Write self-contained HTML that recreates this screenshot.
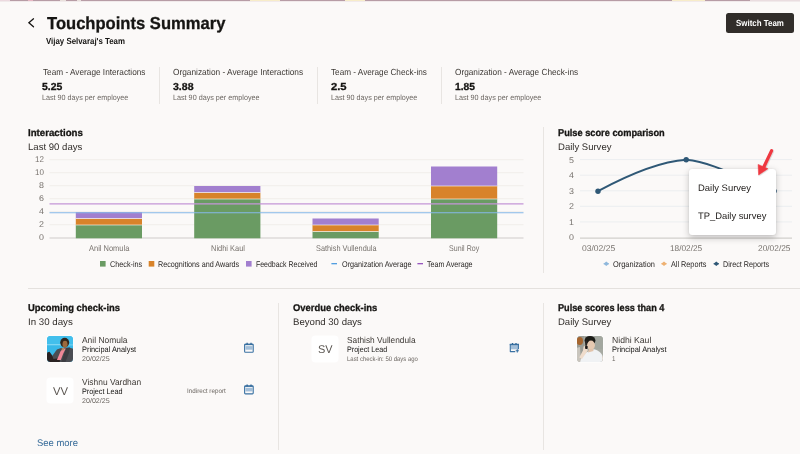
<!DOCTYPE html>
<html lang="en">
<head>
<meta charset="utf-8">
<title>Touchpoints Summary</title>
<style>
html,body{margin:0;padding:0;}
body{text-rendering:geometricPrecision;width:800px;height:454px;overflow:hidden;background:#fbf9f8;font-family:"Liberation Sans",Arial,sans-serif;position:relative;}
#page{position:absolute;left:0;top:0;width:800px;height:454px;overflow:hidden;background:#fbf9f8;}
.t{position:absolute;white-space:nowrap;line-height:1em;display:inline-block;transform-origin:0 0;}
svg{position:absolute;left:0;top:0;}
.topstrip{position:absolute;left:0;top:0;width:800px;height:2px;background:linear-gradient(#b79ca5 0,#b79ca5 50%,#f1eaeb 50%,#f1eaeb 100%);}
.topstrip i{position:absolute;top:0;height:1px;display:block;}
.btn{position:absolute;left:726.3px;top:12.7px;width:68px;height:20.6px;background:#312d2a;border-radius:2.5px;}
.vd{position:absolute;width:1px;background:#e8e5e2;}
.hd{position:absolute;height:1px;background:#e4e1de;}
.av{position:absolute;width:25.8px;height:26.1px;border-radius:3.5px;background:#ffffff;overflow:hidden;box-shadow:0 0 0 0.6px rgba(255,255,255,0.9);}
.popup{position:absolute;left:688.6px;top:168.8px;width:87.2px;height:66.2px;background:#ffffff;border-radius:3px;box-shadow:0 2.5px 7px rgba(0,0,0,0.22),0 0 1.5px rgba(0,0,0,0.10);}
</style>
</head>
<body>
<div id="page">
<div class="topstrip"><i style="left:0;width:10px;background:#ecd9df"></i><i style="left:28px;width:5px;background:#e7b7c3"></i><i style="left:60px;width:6px;background:#e9e0dc"></i><i style="left:77px;width:4px;background:#e9e0dc"></i><i style="left:250px;width:30px;background:#f7ecc9"></i><i style="left:345px;width:20px;background:#f7ecc9"></i><i style="left:672px;width:33px;background:#f7ecc9"></i><i style="left:750px;width:50px;background:#eadde0"></i></div>

<!-- header -->
<svg width="800" height="60" viewBox="0 0 800 60"><path d="M33.5 18.8 L28.9 22.7 L33.5 26.7" fill="none" stroke="#161513" stroke-width="1.3" stroke-linecap="round" stroke-linejoin="miter"/></svg>
<div class="btn"></div>

<!-- metric dividers -->
<div class="vd" style="left:159px;top:67px;height:37px"></div>
<div class="vd" style="left:317px;top:67px;height:37px"></div>
<div class="vd" style="left:440.5px;top:67px;height:37px"></div>

<!-- section dividers -->
<div class="vd" style="left:543px;top:127px;height:146px"></div>
<div class="hd" style="left:28px;top:288px;width:772px"></div>
<div class="vd" style="left:278px;top:302.5px;height:147px"></div>
<div class="vd" style="left:543px;top:302.5px;height:147px"></div>

<!-- charts -->
<svg width="800" height="454" viewBox="0 0 800 454">
 <!-- interactions grid -->
 <g stroke="#f0eeeb" stroke-width="1">
  <path d="M49.5 224.7H523.5M49.5 211.7H523.5M49.5 198.7H523.5M49.5 185.7H523.5M49.5 172.7H523.5M49.5 159.7H523.5"/>
 </g>
 <path d="M49.5 238.0H523.5" stroke="#cfccc9" stroke-width="1.2"/>
 <!-- bars -->
 <g>
  <rect x="75.8" y="225.00" width="66.2" height="13.30" fill="#6a9b63"/>
  <rect x="75.8" y="218.50" width="66.2" height="6.50" fill="#d8832a"/>
  <rect x="75.8" y="212.00" width="66.2" height="6.50" fill="#a27fcf"/>
  <rect x="194.2" y="199.00" width="66.2" height="39.30" fill="#6a9b63"/>
  <rect x="194.2" y="192.50" width="66.2" height="6.50" fill="#d8832a"/>
  <rect x="194.2" y="186.00" width="66.2" height="6.50" fill="#a27fcf"/>
  <rect x="312.5" y="231.50" width="66.2" height="6.80" fill="#6a9b63"/>
  <rect x="312.5" y="225.00" width="66.2" height="6.50" fill="#d8832a"/>
  <rect x="312.5" y="218.50" width="66.2" height="6.50" fill="#a27fcf"/>
  <rect x="431.0" y="199.00" width="66.2" height="39.30" fill="#6a9b63"/>
  <rect x="431.0" y="186.00" width="66.2" height="13.00" fill="#d8832a"/>
  <rect x="431.0" y="166.50" width="66.2" height="19.50" fill="#a27fcf"/>
 </g>
 <g stroke="#fbf9f8" stroke-width="0.9" opacity="0.7">
  <path d="M75.8 225.00h66.2M75.8 218.50h66.2M194.2 199.00h66.2M194.2 192.50h66.2M312.5 231.50h66.2M312.5 225.00h66.2M431.0 199.00h66.2M431.0 186.00h66.2"/>
 </g>
 <path d="M49.5 212.78H523.5" stroke="#86b9e8" stroke-width="1.15"/>
 <path d="M49.5 203.88H523.5" stroke="#c596d7" stroke-width="1.25"/>
 <!-- legend -->
 <rect x="100" y="261" width="5.6" height="5.6" fill="#6a9b63"/>
 <rect x="148.7" y="261" width="5.6" height="5.6" fill="#d8832a"/>
 <rect x="246" y="261" width="5.6" height="5.6" fill="#a27fcf"/>
 <path d="M331.4 263.7h5.6" stroke="#3f93dd" stroke-width="1.2"/>
 <path d="M417.4 263.7h5.6" stroke="#8d44b8" stroke-width="1.2"/>

 <!-- pulse grid -->
 <g stroke="#eceef0" stroke-width="1">
  <path d="M580 159.6H792M580 175.2H792M580 190.8H792M580 206.3H792M580 221.9H792"/>
 </g>
 <path d="M580 238.1H792" stroke="#d2cfcc" stroke-width="1.3"/>
 <path d="M598 191.2 C 628 175, 659 161.6, 686.2 159.8 C 715 162.5, 745 181, 774.3 191" fill="none" stroke="#2f5876" stroke-width="1.9" stroke-linecap="round"/>
 <circle cx="598" cy="191.2" r="2.7" fill="#2f5876"/>
 <circle cx="686.2" cy="159.8" r="2.7" fill="#2f5876"/>
 <circle cx="774.3" cy="191" r="2.5" fill="#2f5876"/>
 <!-- pulse legend -->
 <g>
  <path d="M603.6 263.8h5.4" stroke="#8fb8dc" stroke-width="0.9"/><path d="M606.3 261.6l2.7 2.2l-2.7 2.2l-2.7-2.2z" fill="#8fb8dc"/>
  <path d="M661.3 263.8h5.4" stroke="#eeb172" stroke-width="0.9"/><path d="M664 261.6l2.7 2.2l-2.7 2.2l-2.7-2.2z" fill="#eeb172"/>
  <path d="M713.6 263.8h5.4" stroke="#2f5876" stroke-width="0.9"/><path d="M716.3 261.6l2.7 2.2l-2.7 2.2l-2.7-2.2z" fill="#2f5876"/>
 </g>
</svg>

<!-- avatars -->
<div class="av" style="left:47.2px;top:335.6px;">
 <svg width="26" height="26" viewBox="0 0 26 26">
  <defs><filter id="bl1" x="-10%" y="-10%" width="120%" height="120%"><feGaussianBlur stdDeviation="0.45"/></filter></defs>
  <rect width="26" height="26" fill="#38b8e8"/>
  <g filter="url(#bl1)">
  <rect x="-1" y="-1" width="28" height="9" fill="#43bfec"/>
  <rect x="-1" y="8" width="15" height="1.3" fill="#7fd6f3"/>
  <rect x="21" y="8.4" width="6" height="1" fill="#7fd6f3"/>
  <path d="M4.8 20.6 L9.9 13.6 L14 12 L22 11.5 L27 13 L27 27 L4 27Z" fill="#4c4d52"/>
  <path d="M19 12.2 L23 11.6 L22 17 L18 27 L14 27Z" fill="#3c3d42"/>
  <path d="M0.2 16.5 L2.5 15.8 L4.9 19 L6.5 23 L12.8 22 L12.8 27 L-1 27Z" fill="#2b2320"/>
  <ellipse cx="17.7" cy="6.6" rx="4.5" ry="4.8" fill="#33261c"/>
  <ellipse cx="18" cy="8.2" rx="2.5" ry="3.4" fill="#9a6a3c"/>
  <path d="M13.4 15.6 L15.8 12.8 L18.8 12.4 L16.4 17.2 L13.8 23.9 L9.9 23.9 L12.2 18.5Z" fill="#ef8797"/>
  <path d="M14.5 12.6 L17.5 11.6 L17 14 L15 14.6Z" fill="#b98a5e"/>
  </g>
 </svg>
</div>
<div class="av" style="left:47.3px;top:378.4px;height:25px"></div>
<div class="av" style="left:312.2px;top:335.6px;"></div>
<div class="av" style="left:576.8px;top:335.6px;">
 <svg width="26" height="26" viewBox="0 0 26 26">
  <defs><filter id="bl2" x="-10%" y="-10%" width="120%" height="120%"><feGaussianBlur stdDeviation="0.5"/></filter></defs>
  <rect width="26" height="26" fill="#a7aaa2"/>
  <g filter="url(#bl2)">
  <rect x="-1" y="-1" width="8" height="28" fill="#9a9c95"/>
  <rect x="18" y="-1" width="9" height="14" fill="#a3a79f"/>
  <ellipse cx="2.8" cy="5" rx="3.2" ry="4" fill="#a6652f"/>
  <path d="M-1 12 L3 11 L4 27 L-1 27Z" fill="#c9c5bd"/>
  <path d="M24.5 21 L27 20 L27 27 L24 27Z" fill="#b08050"/>
  <path d="M3 27 C3.5 22, 6 19, 9 16.5 L17 13.2 C22 14.5, 25.8 17.5, 25.8 22 L25.8 27Z" fill="#f0f2f4"/>
  <ellipse cx="13" cy="4.6" rx="5.4" ry="4.6" fill="#1d1a18"/>
  <path d="M8 5 L10 4 L10.5 11 L8.3 10Z" fill="#2a2522"/>
  <ellipse cx="14" cy="9.2" rx="3.9" ry="4.7" fill="#e6c9b1"/>
  <path d="M12 13 L16 13 L16.5 15 L11 16.5Z" fill="#e2c3aa"/>
  <path d="M6.6 10.5 L9.5 9.6 L10.8 14.5 L5 23 L2.2 21.5 L6 14.5Z" fill="#efdccb"/>
  <rect x="8.1" y="9.8" width="2.5" height="3.3" rx="0.8" fill="#1a1817"/>
  </g>
 </svg>
</div>

<!-- icons -->
<svg width="800" height="454" viewBox="0 0 800 454">
 <g fill="none" stroke="#3a72a3" stroke-width="1.1">
  <rect x="245.57" y="346.10" width="6.8" height="3.6" fill="#a3bfd9" stroke="none"/>
  <rect x="244.62" y="344.30" width="8.6" height="7.9" rx="0.8"/>
  <path d="M244.67 344.45h8.5" stroke-width="1.4"/>
  <path d="M247.12 342.85v1.7M251.02 342.85v1.7" stroke-width="1.3" stroke="#2f6696"/>
 </g>
 <g fill="none" stroke="#3a72a3" stroke-width="1.1">
  <rect x="245.57" y="387.80" width="6.8" height="3.6" fill="#a3bfd9" stroke="none"/>
  <rect x="244.62" y="386.00" width="8.6" height="7.9" rx="0.8"/>
  <path d="M244.67 386.15h8.5" stroke-width="1.4"/>
  <path d="M247.12 384.55v1.7M251.02 384.55v1.7" stroke-width="1.3" stroke="#2f6696"/>
 </g>
 <g fill="none" stroke="#3a72a3" stroke-width="1.1" stroke-linecap="butt">
  <rect x="511" y="345.2" width="7.2" height="4.1" fill="#a3bfd9" stroke="none"/>
  <path d="M510.3 343.9V351.6H515.2" stroke-linejoin="round"/>
  <path d="M509.8 344.5H519" stroke-width="1.5"/>
  <path d="M518.4 344V349.3"/>
  <path d="M512.5 342.9v1.6M516 342.9v1.6" stroke-width="1.3" stroke="#2f6696"/>
  <path d="M517.3 349.2v3.2M515.7 350.8h3.2" stroke-width="1.1"/>
 </g>
</svg>

<span class="t" style="left:46.66px;top:14.60px;font-size:17.3px;font-weight:700;color:#161513;-webkit-text-stroke:0.3px currentColor;transform:scaleX(0.9593);">Touchpoints Summary</span>
<span class="t" style="left:46.37px;top:36.60px;font-size:8.8px;font-weight:700;color:#161513;transform:scaleX(0.8937);">Vijay Selvaraj's Team</span>
<span class="t" style="left:735.87px;top:19.20px;font-size:8.8px;font-weight:700;color:#ffffff;transform:scaleX(0.9008);">Switch Team</span>
<span class="t" style="left:42.57px;top:68.00px;font-size:8.8px;font-weight:400;color:#3d3935;transform:scaleX(0.9367);">Team - Average Interactions</span>
<span class="t" style="left:41.99px;top:83.00px;font-size:10.2px;font-weight:700;color:#161513;-webkit-text-stroke:0.3px currentColor;transform:scaleX(1.0250);">5.25</span>
<span class="t" style="left:42.14px;top:94.00px;font-size:7.7px;font-weight:400;color:#6b6661;transform:scaleX(0.9351);">Last 90 days per employee</span>
<span class="t" style="left:173.17px;top:68.00px;font-size:8.8px;font-weight:400;color:#3d3935;transform:scaleX(0.9449);">Organization - Average Interactions</span>
<span class="t" style="left:172.79px;top:83.00px;font-size:10.2px;font-weight:700;color:#161513;-webkit-text-stroke:0.3px currentColor;transform:scaleX(1.0351);">3.88</span>
<span class="t" style="left:172.94px;top:94.00px;font-size:7.7px;font-weight:400;color:#6b6661;transform:scaleX(0.9373);">Last 90 days per employee</span>
<span class="t" style="left:331.47px;top:68.00px;font-size:8.8px;font-weight:400;color:#3d3935;transform:scaleX(0.9305);">Team - Average Check-ins</span>
<span class="t" style="left:330.99px;top:83.00px;font-size:10.2px;font-weight:700;color:#161513;-webkit-text-stroke:0.3px currentColor;transform:scaleX(1.1025);">2.5</span>
<span class="t" style="left:331.14px;top:94.00px;font-size:7.7px;font-weight:400;color:#6b6661;transform:scaleX(0.9351);">Last 90 days per employee</span>
<span class="t" style="left:455.37px;top:68.00px;font-size:8.8px;font-weight:400;color:#3d3935;transform:scaleX(0.9374);">Organization - Average Check-ins</span>
<span class="t" style="left:454.99px;top:83.00px;font-size:10.2px;font-weight:700;color:#161513;-webkit-text-stroke:0.3px currentColor;transform:scaleX(1.0099);">1.85</span>
<span class="t" style="left:455.14px;top:94.00px;font-size:7.7px;font-weight:400;color:#6b6661;transform:scaleX(0.9351);">Last 90 days per employee</span>
<span class="t" style="left:27.71px;top:129.20px;font-size:9.8px;font-weight:700;color:#161513;-webkit-text-stroke:0.3px currentColor;transform:scaleX(0.9882);">Interactions</span>
<span class="t" style="left:27.73px;top:143.30px;font-size:9.5px;font-weight:400;color:#312d2a;transform:scaleX(1.0086);">Last 90 days</span>
<span class="t" style="left:89.00px;top:244.20px;font-size:8.3px;font-weight:400;color:#77726d;transform:scaleX(0.9008);">Anil Nomula</span>
<span class="t" style="left:210.50px;top:244.20px;font-size:8.3px;font-weight:400;color:#77726d;transform:scaleX(0.8987);">Nidhi Kaul</span>
<span class="t" style="left:315.50px;top:244.20px;font-size:8.3px;font-weight:400;color:#77726d;transform:scaleX(0.8842);">Sathish Vullendula</span>
<span class="t" style="left:449.30px;top:244.20px;font-size:8.3px;font-weight:400;color:#77726d;transform:scaleX(0.8502);">Sunil Roy</span>
<span class="t" style="left:109.80px;top:259.80px;font-size:8.3px;font-weight:400;color:#2b2826;transform:scaleX(0.8727);">Check-ins</span>
<span class="t" style="left:158.30px;top:259.80px;font-size:8.3px;font-weight:400;color:#2b2826;transform:scaleX(0.8686);">Recognitions and Awards</span>
<span class="t" style="left:255.80px;top:259.80px;font-size:8.3px;font-weight:400;color:#2b2826;transform:scaleX(0.8385);">Feedback Received</span>
<span class="t" style="left:341.50px;top:259.80px;font-size:8.3px;font-weight:400;color:#2b2826;transform:scaleX(0.8724);">Organization Average</span>
<span class="t" style="left:427.30px;top:259.80px;font-size:8.3px;font-weight:400;color:#2b2826;transform:scaleX(0.8621);">Team Average</span>
<span class="t" style="left:557.61px;top:129.20px;font-size:9.8px;font-weight:700;color:#161513;-webkit-text-stroke:0.3px currentColor;transform:scaleX(0.9427);">Pulse score comparison</span>
<span class="t" style="left:557.63px;top:143.30px;font-size:9.5px;font-weight:400;color:#312d2a;transform:scaleX(1.0021);">Daily Survey</span>
<span class="t" style="left:581.50px;top:244.20px;font-size:8.3px;font-weight:400;color:#77726d;transform:scaleX(1.0278);">03/02/25</span>
<span class="t" style="left:669.90px;top:244.20px;font-size:8.3px;font-weight:400;color:#77726d;transform:scaleX(0.9969);">18/02/25</span>
<span class="t" style="left:757.70px;top:244.20px;font-size:8.3px;font-weight:400;color:#77726d;transform:scaleX(1.0062);">20/02/25</span>
<span class="t" style="left:613.30px;top:259.80px;font-size:8.3px;font-weight:400;color:#2b2826;transform:scaleX(0.8905);">Organization</span>
<span class="t" style="left:671.00px;top:259.80px;font-size:8.3px;font-weight:400;color:#2b2826;transform:scaleX(0.8748);">All Reports</span>
<span class="t" style="left:723.30px;top:259.80px;font-size:8.3px;font-weight:400;color:#2b2826;transform:scaleX(0.8673);">Direct Reports</span>
<span class="t" style="left:27.71px;top:304.10px;font-size:9.8px;font-weight:700;color:#161513;-webkit-text-stroke:0.3px currentColor;transform:scaleX(0.9600);">Upcoming check-ins</span>
<span class="t" style="left:27.73px;top:318.10px;font-size:9.5px;font-weight:400;color:#312d2a;transform:scaleX(1.0227);">In 30 days</span>
<span class="t" style="left:82.28px;top:336.00px;font-size:8.7px;font-weight:400;color:#3d3935;transform:scaleX(0.9701);">Anil Nomula</span>
<span class="t" style="left:82.33px;top:346.20px;font-size:7.9px;font-weight:400;color:#161513;transform:scaleX(0.9351);">Principal Analyst</span>
<span class="t" style="left:82.39px;top:357.00px;font-size:6.9px;font-weight:400;color:#6b6661;transform:scaleX(1.0335);">20/02/25</span>
<span class="t" style="left:82.28px;top:377.80px;font-size:8.7px;font-weight:400;color:#3d3935;transform:scaleX(0.9691);">Vishnu Vardhan</span>
<span class="t" style="left:82.33px;top:388.00px;font-size:7.9px;font-weight:400;color:#161513;transform:scaleX(0.9150);">Project Lead</span>
<span class="t" style="left:82.39px;top:398.60px;font-size:6.9px;font-weight:400;color:#6b6661;transform:scaleX(1.0335);">20/02/25</span>
<span class="t" style="left:186.60px;top:389.00px;font-size:6.6px;font-weight:400;color:#6b6661;transform:scaleX(0.9534);">Indirect report</span>
<span class="t" style="left:37.42px;top:439.20px;font-size:9.6px;font-weight:400;color:#356a98;transform:scaleX(0.9846);">See more</span>
<span class="t" style="left:52.63px;top:386.90px;font-size:11.2px;font-weight:400;color:#5a5550;transform:scaleX(1.0071);">VV</span>
<span class="t" style="left:292.61px;top:304.10px;font-size:9.8px;font-weight:700;color:#161513;-webkit-text-stroke:0.3px currentColor;transform:scaleX(0.9613);">Overdue check-ins</span>
<span class="t" style="left:292.63px;top:318.10px;font-size:9.5px;font-weight:400;color:#312d2a;transform:scaleX(1.0117);">Beyond 30 days</span>
<span class="t" style="left:317.53px;top:344.60px;font-size:11.2px;font-weight:400;color:#5a5550;transform:scaleX(0.9737);">SV</span>
<span class="t" style="left:347.28px;top:336.00px;font-size:8.7px;font-weight:400;color:#3d3935;transform:scaleX(0.9566);">Sathish Vullendula</span>
<span class="t" style="left:347.33px;top:346.20px;font-size:7.9px;font-weight:400;color:#161513;transform:scaleX(0.9060);">Project Lead</span>
<span class="t" style="left:347.40px;top:357.00px;font-size:6.6px;font-weight:400;color:#6b6661;transform:scaleX(0.9036);">Last check-in: 50 days ago</span>
<span class="t" style="left:557.71px;top:304.10px;font-size:9.8px;font-weight:700;color:#161513;-webkit-text-stroke:0.3px currentColor;transform:scaleX(0.9347);">Pulse scores less than 4</span>
<span class="t" style="left:557.73px;top:318.10px;font-size:9.5px;font-weight:400;color:#312d2a;transform:scaleX(1.0002);">Daily Survey</span>
<span class="t" style="left:611.68px;top:336.00px;font-size:8.7px;font-weight:400;color:#3d3935;transform:scaleX(0.9933);">Nidhi Kaul</span>
<span class="t" style="left:611.73px;top:346.20px;font-size:7.9px;font-weight:400;color:#161513;transform:scaleX(0.9420);">Principal Analyst</span>
<span class="t" style="left:611.99px;top:357.00px;font-size:6.9px;font-weight:400;color:#6b6661;transform:scaleX(0.8918);">1</span>
<span class="t" style="left:34.80px;top:155.40px;font-size:8.3px;font-weight:400;color:#77726d;transform:scaleX(0.9634);">12</span>
<span class="t" style="left:34.80px;top:168.40px;font-size:8.3px;font-weight:400;color:#77726d;transform:scaleX(0.9634);">10</span>
<span class="t" style="left:38.75px;top:181.40px;font-size:8.3px;font-weight:400;color:#77726d;transform:scaleX(1.0694);">8</span>
<span class="t" style="left:38.75px;top:194.40px;font-size:8.3px;font-weight:400;color:#77726d;transform:scaleX(1.0694);">6</span>
<span class="t" style="left:38.75px;top:207.40px;font-size:8.3px;font-weight:400;color:#77726d;transform:scaleX(1.0694);">4</span>
<span class="t" style="left:38.75px;top:220.40px;font-size:8.3px;font-weight:400;color:#77726d;transform:scaleX(1.0694);">2</span>
<span class="t" style="left:38.75px;top:233.40px;font-size:8.3px;font-weight:400;color:#77726d;transform:scaleX(1.0694);">0</span>
<span class="t" style="left:568.65px;top:155.50px;font-size:8.3px;font-weight:400;color:#77726d;transform:scaleX(1.0694);">5</span>
<span class="t" style="left:568.65px;top:171.08px;font-size:8.3px;font-weight:400;color:#77726d;transform:scaleX(1.0694);">4</span>
<span class="t" style="left:568.65px;top:186.66px;font-size:8.3px;font-weight:400;color:#77726d;transform:scaleX(1.0694);">3</span>
<span class="t" style="left:568.65px;top:202.24px;font-size:8.3px;font-weight:400;color:#77726d;transform:scaleX(1.0694);">2</span>
<span class="t" style="left:568.65px;top:217.82px;font-size:8.3px;font-weight:400;color:#77726d;transform:scaleX(1.0694);">1</span>
<span class="t" style="left:568.65px;top:233.40px;font-size:8.3px;font-weight:400;color:#77726d;transform:scaleX(1.0694);">0</span>


<!-- popup -->
<div class="popup"></div>
<span class="t" style="left:698.14px;top:183.10px;font-size:9.4px;font-weight:400;color:#252220;transform:scaleX(1.0077);">Daily Survey</span>
<span class="t" style="left:698.14px;top:211.00px;font-size:9.4px;font-weight:400;color:#252220;transform:scaleX(1.0011);">TP_Daily survey</span>
<svg width="800" height="454" viewBox="0 0 800 454">
 <g filter="url(#ash)">
 <path d="M771.6 150.6 L763.6 167.5" stroke="#ef3840" stroke-width="3.2" stroke-linecap="round" fill="none"/>
 <path d="M758.6 175 L758.1 164.4 L767.9 168.7 Z" fill="#ef3840" stroke="#ef3840" stroke-width="0.5" stroke-linejoin="round"/>
 </g>
 <defs><filter id="ash" x="-50%" y="-50%" width="200%" height="200%"><feDropShadow dx="0.6" dy="0.6" stdDeviation="0.7" flood-color="#000" flood-opacity="0.22"/></filter></defs>
</svg>
</div>
</body>
</html>
